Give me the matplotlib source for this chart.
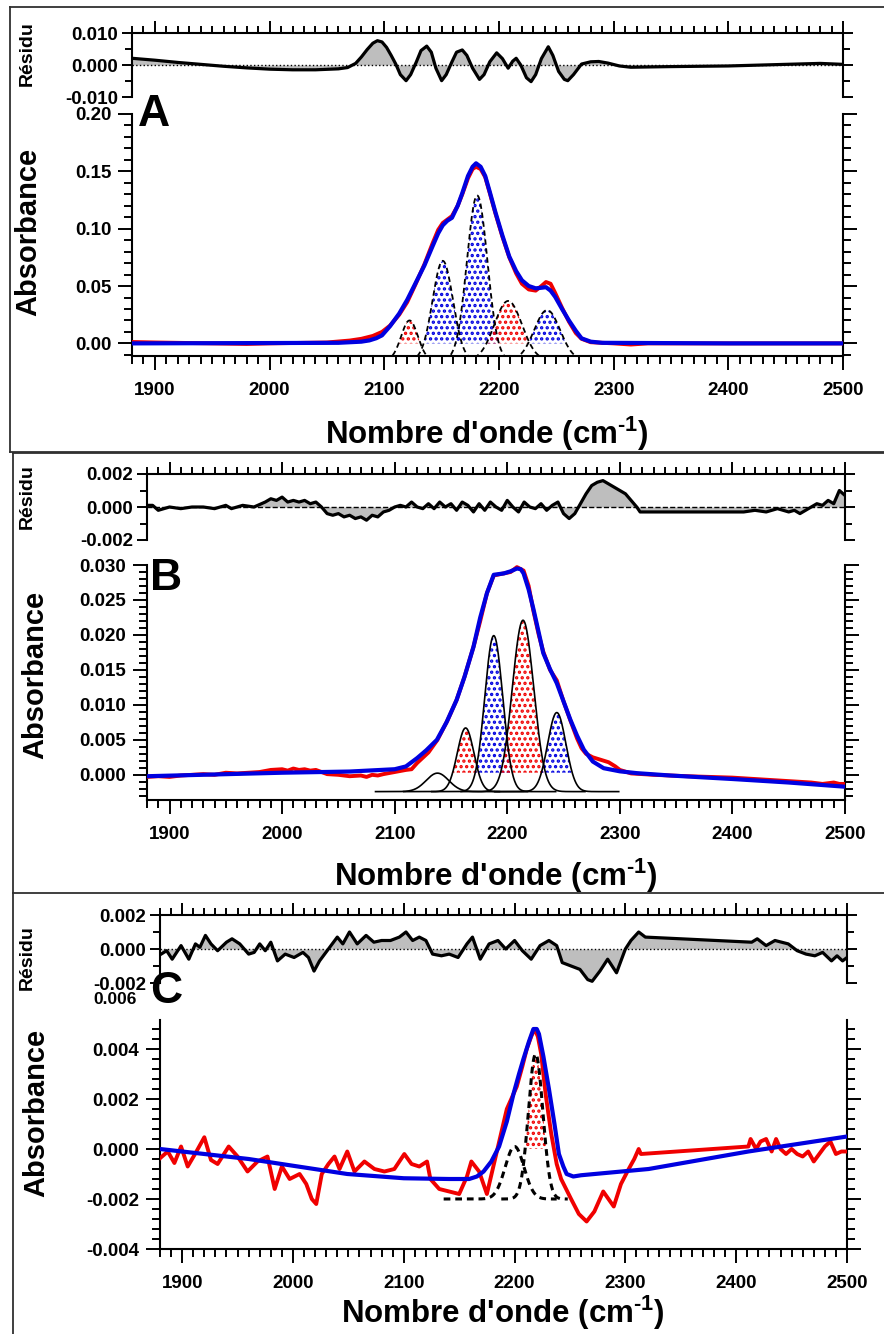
import numpy as np
import matplotlib
matplotlib.use("Agg")
import matplotlib.pyplot as plt
from matplotlib.lines import Line2D
from matplotlib.ticker import MultipleLocator, FormatStrFormatter

plt.rcParams['font.family'] = ['Liberation Sans', 'DejaVu Sans']
plt.rcParams['font.weight'] = 'bold'
plt.rcParams['mathtext.fontset'] = 'custom'
plt.rcParams['mathtext.rm'] = 'Liberation Sans:bold'
plt.rcParams['mathtext.bf'] = 'Liberation Sans:bold'
plt.rcParams['axes.unicode_minus'] = False
plt.rcParams['hatch.linewidth'] = 1.6

W, H = 884, 1334
RED = '#f00000'
BLUE = '#0000e0'
GREY = '#bebebe'

# ---------------- panel A ----------------
resA_x = [1880, 1900, 1920, 1940, 1960, 1980, 2000, 2020, 2040, 2060, 2068, 2075, 2080, 2085, 2090,
          2094, 2098, 2102, 2106, 2110, 2114, 2119, 2123, 2128, 2132, 2137, 2141, 2145, 2150, 2154,
          2159, 2163, 2168, 2172, 2177, 2183, 2187, 2192, 2198, 2203, 2208, 2212, 2215, 2219, 2224,
          2228, 2232, 2237, 2243, 2247, 2252, 2257, 2260, 2265, 2272, 2280, 2287, 2295, 2305, 2315,
          2350, 2400, 2450, 2480, 2500]
resA_y = [0.0021, 0.0015, 0.0008, 0.0002, -0.0004, -0.0009, -0.0013, -0.0015, -0.0015, -0.0012, -0.0008,
          0.0005, 0.0025, 0.0048, 0.0068, 0.0076, 0.0072, 0.0055, 0.003, 0.0003, -0.003, -0.0049,
          -0.003, 0.001, 0.0045, 0.0059, 0.004, -0.001, -0.0049, -0.003, 0.001, 0.004, 0.0047, 0.003,
          -0.001, -0.0045, -0.003, 0.001, 0.0038, 0.002, -0.001, 0.0012, 0.0021, 0.0, -0.004, -0.0052,
          -0.003, 0.002, 0.0057, 0.003, -0.002, -0.0045, -0.0049, -0.003, 0.0003, 0.001, 0.0011,
          0.0006, -0.0003, -0.0007, -0.0005, -0.0003, 0.0002, 0.0005, 0.0002]

fitA_x = [1880, 2000, 2060, 2070, 2080, 2087, 2093, 2098, 2105, 2113, 2120, 2127, 2135, 2142, 2147,
          2151, 2155, 2159, 2164, 2168, 2173, 2177, 2180, 2184, 2188, 2192, 2197, 2203, 2209, 2215,
          2220, 2226, 2232, 2237, 2241, 2245, 2249, 2255, 2261, 2267, 2272, 2280, 2290, 2400, 2500]
fitA_y = [0.0, 0.0003, 0.0005, 0.001, 0.0015, 0.0026, 0.0045, 0.007, 0.015, 0.026, 0.038, 0.052, 0.068,
          0.0845, 0.096, 0.103, 0.107, 0.1095, 0.12, 0.131, 0.146, 0.154, 0.157, 0.154, 0.146, 0.132,
          0.114, 0.094, 0.0757, 0.063, 0.055, 0.05, 0.048, 0.0485, 0.049, 0.046, 0.0406, 0.030, 0.020,
          0.011, 0.0044, 0.0015, 0.0005, 0.0, 0.0]

dataA_x = [1880, 1900, 1950, 1980, 2000, 2050, 2070, 2080, 2090, 2098, 2105, 2113, 2120, 2127, 2135,
           2142, 2147, 2151, 2155, 2159, 2164, 2168, 2173, 2177, 2180, 2184, 2188, 2192, 2197, 2203,
           2209, 2215, 2220, 2226, 2232, 2237, 2241, 2245, 2249, 2255, 2261, 2267, 2272, 2280, 2300,
           2315, 2330, 2450, 2500]
dataA_y = [0.0012, 0.0008, 0.0, -0.0005, 0.0, 0.0008, 0.0025, 0.004, 0.0065, 0.010, 0.0155, 0.025,
           0.036, 0.051, 0.069, 0.087, 0.099, 0.105, 0.108, 0.111, 0.12, 0.130, 0.144, 0.152, 0.154,
           0.152, 0.145, 0.131, 0.113, 0.093, 0.075, 0.061, 0.052, 0.047, 0.046, 0.050, 0.0535, 0.052,
           0.044, 0.031, 0.019, 0.009, 0.004, 0.001, 0.0, -0.001, 0.0, 0.0, 0.0]

compA_center = [2122, 2151, 2181, 2208, 2242]
compA_peak = [0.020, 0.072, 0.129, 0.037, 0.029]
compA_sigma = [7.3, 8.9, 8.9, 12.0, 11.3]
compA_color = [RED, BLUE, BLUE, RED, BLUE]
compA_base = -0.015

# ---------------- panel B ----------------
resB_x = [1880, 1885, 1890, 1895, 1900, 1910, 1920, 1930, 1940, 1950, 1955, 1965, 1975, 1985, 1990,
          1995, 2000, 2005, 2010, 2015, 2020, 2025, 2030, 2035, 2040, 2045, 2050, 2055, 2060, 2065,
          2070, 2075, 2080, 2085, 2090, 2095, 2100, 2105, 2110, 2115, 2120, 2125, 2130, 2135, 2140,
          2145, 2150, 2155, 2160, 2165, 2170, 2175, 2180, 2185, 2190, 2195, 2200, 2205, 2210, 2215,
          2220, 2225, 2230, 2235, 2240, 2245, 2250, 2255, 2260, 2265, 2270, 2275, 2280, 2285, 2290,
          2295, 2300, 2305, 2310, 2315, 2318, 2340, 2370, 2400, 2410, 2420, 2430, 2440, 2445, 2450,
          2455, 2460, 2465, 2470, 2475, 2480, 2485, 2490, 2495, 2500]
resB_y = [0.0001, 0.0001, -0.0002, -0.0001, 0.0, -0.0001, 0.0, 0.0, -0.0001, 0.0001, -0.0001, 0.0001,
          0.0, 0.0003, 0.0005, 0.0004, 0.0006, 0.0003, 0.0004, 0.0003, 0.0004, 0.0002, 0.0003, 0.0,
          -0.0004, -0.0005, -0.0004, -0.0006, -0.0005, -0.0007, -0.0006, -0.0008, -0.0005, -0.0006,
          -0.0003, -0.0002, 0.0, 0.0001, 0.0, 0.0003, 0.0, -0.0001, 0.0002, -0.0001, 0.0003, 0.0,
          0.0002, -0.0002, 0.0003, 0.0001, -0.0003, 0.0002, -0.0002, 0.0003, 0.0, -0.0002, 0.0004, 0.0,
          -0.0003, 0.0003, 0.0, -0.0001, 0.0002, -0.0002, 0.0001, 0.0003, -0.0004, -0.0007, -0.0004,
          0.0002, 0.0008, 0.0013, 0.0015, 0.0016, 0.0014, 0.0012, 0.001, 0.0008, 0.0004, 0.0, -0.0003,
          -0.0003, -0.0003, -0.0003, -0.0003, -0.0002, -0.0003, -0.0001, -0.0002, -0.0003, -0.0002,
          -0.0004, -0.0002, 0.0, 0.0002, 0.0001, 0.0004, 0.0002, 0.001, 0.0007]

fitB_x = [1880, 2000, 2060, 2100, 2110, 2120, 2128, 2137.5, 2146, 2155, 2162, 2170, 2176, 2182, 2188,
          2197, 2203, 2208.6, 2212, 2214.5, 2219, 2223.4, 2228, 2232, 2238, 2244, 2250, 2256, 2262,
          2268, 2276, 2285.6, 2300, 2315, 2345, 2400, 2450, 2500]
fitB_y = [-0.0002, 0.0003, 0.00047, 0.0008, 0.0012, 0.0024, 0.0035, 0.005, 0.0075, 0.0107, 0.014,
          0.0183, 0.0225, 0.026, 0.0286, 0.0288, 0.0291, 0.0295, 0.0294, 0.0288, 0.0265, 0.0236, 0.0203,
          0.0174, 0.0151, 0.0131, 0.0105, 0.0079, 0.0056, 0.0036, 0.0019, 0.00095, 0.0005, 0.00024,
          -0.0001, -0.0006, -0.0011, -0.0017]

dataB_x = [1880, 1890, 1900, 1910, 1920, 1930, 1940, 1950, 1960, 1970, 1980, 1990, 2000, 2005, 2010,
           2015, 2020, 2025, 2030, 2040, 2050, 2060, 2070, 2075, 2080, 2085, 2090, 2100, 2110, 2115,
           2120, 2130, 2138, 2147, 2155, 2162, 2170, 2176, 2182, 2188, 2197, 2203, 2208.6, 2214.5, 2219,
           2223, 2228, 2232, 2238, 2244, 2250, 2256, 2262, 2266, 2270, 2276, 2282, 2290, 2296, 2300,
           2310, 2330, 2360, 2400, 2430, 2450, 2460, 2470, 2480, 2485, 2490, 2495, 2500]
dataB_y = [-0.0003, -0.0002, -0.0003, -0.0001, 0.0, 0.0001, 0.0, 0.0003, 0.0002, 0.0003, 0.0004, 0.0007,
           0.0008, 0.0006, 0.0009, 0.0007, 0.0008, 0.0006, 0.0007, 0.0001, 0.0, -0.0002, -0.0001, -0.0003,
           0.0, -0.0001, 0.0001, 0.0004, 0.0007, 0.0008, 0.0017, 0.0032, 0.005, 0.0078, 0.0107, 0.014,
           0.0183, 0.022, 0.026, 0.0285, 0.0288, 0.029, 0.0297, 0.0292, 0.027, 0.0236, 0.020, 0.0176,
           0.015, 0.0135, 0.0105, 0.0078, 0.0052, 0.0038, 0.003, 0.0025, 0.0022, 0.0018, 0.0012, 0.0007,
           0.0002, 0.0, -0.0002, -0.0004, -0.0007, -0.0009, -0.001, -0.0011, -0.0013, -0.0012, -0.0011,
           -0.0013, -0.0013]

compB_center = [2138, 2163, 2188, 2214, 2244]
compB_peak = [0.00024, 0.0067, 0.0199, 0.0221, 0.0089]
compB_sigma = [10.0, 7.4, 8.0, 9.5, 8.1]
compB_color = [None, RED, BLUE, RED, BLUE]
compB_base = -0.0024
compB_level = 0.0003
compB_span = 55

# ---------------- panel C ----------------
resC_x = [1881, 1886, 1891, 1899, 1906, 1912, 1916, 1921, 1926, 1932, 1940, 1945, 1952, 1960, 1965,
          1970, 1975, 1980, 1986, 1993, 2001, 2009, 2014, 2019, 2024, 2032, 2040, 2045, 2051, 2058,
          2066, 2073, 2080, 2088, 2096, 2102, 2108, 2114, 2120, 2126, 2134, 2141, 2149, 2157, 2162,
          2169, 2177, 2185, 2192, 2200, 2207, 2215, 2223, 2231, 2238, 2243, 2251, 2259, 2266, 2270,
          2277, 2284, 2292, 2300, 2305, 2312, 2318, 2414, 2419, 2427, 2435, 2447, 2455, 2463, 2471,
          2478, 2486, 2491, 2496, 2500]
resC_y = [-0.0003, -0.0001, -0.0006, 0.0002, -0.0006, 0.0003, 0.0001, 0.0008, 0.0003, -0.0001, 0.0004,
          0.0006, 0.0003, -0.0003, -0.0002, 0.0003, -0.0001, 0.0004, -0.0007, -0.0003, -0.0005, -0.0002,
          -0.0005, -0.0013, -0.0007, 0.0, 0.0007, 0.0003, 0.001, 0.0003, 0.0008, 0.0004, 0.0005, 0.0005,
          0.0007, 0.001, 0.0005, 0.0007, 0.0005, -0.0003, -0.0004, -0.0003, -0.0005, 0.0003, 0.0007,
          -0.0006, 0.0003, 0.0005, 0.0, 0.0005, -0.0001, -0.0006, 0.0002, 0.0005, 0.0002, -0.0008,
          -0.001, -0.0012, -0.0018, -0.0019, -0.0013, -0.0006, -0.0014, 0.0, 0.0005, 0.001, 0.0007,
          0.0004, 0.0006, 0.0002, 0.0005, 0.0003, -0.0001, -0.0003, -0.0004, -0.0002, -0.0007, -0.0004,
          -0.0007, -0.0005]

fitC_x = [1880, 1960, 2049, 2100, 2141, 2159, 2166, 2172, 2179, 2186, 2193, 2199, 2204, 2208, 2213,
          2217, 2220, 2222, 2226, 2231, 2236, 2240, 2244, 2247, 2253, 2260, 2321, 2411, 2500]
fitC_y = [0.0, -0.0004, -0.001, -0.00117, -0.0012, -0.0012, -0.0011, -0.0009, -0.0005, 0.0001, 0.0011,
          0.0022, 0.003, 0.0036, 0.0043, 0.0048, 0.0048, 0.0046, 0.0037, 0.0024, 0.0010, -0.0002,
          -0.0007, -0.001, -0.0011, -0.00105, -0.0008, -0.0001, 0.0005]

dataC_x = [1880, 1887, 1893, 1899, 1905, 1912, 1920, 1926, 1932, 1942, 1950, 1959, 1968, 1977, 1983.5,
           1990, 1997, 2006, 2012, 2017, 2021, 2026, 2032, 2037.5, 2042, 2049, 2055.5, 2064.5, 2073.5,
           2082.5, 2091.5, 2100.5, 2107, 2114, 2121, 2124, 2132, 2141, 2150, 2157, 2161, 2168, 2175,
           2184, 2193, 2202, 2207, 2211, 2215, 2218, 2221, 2224, 2228, 2233, 2238, 2242, 2251, 2258,
           2265, 2272, 2280, 2289.5, 2296, 2303, 2308, 2312, 2314, 2411, 2413, 2418, 2422, 2427, 2432,
           2436, 2440, 2445, 2450, 2455, 2460, 2465, 2470, 2475, 2480, 2485, 2490, 2495, 2500]
dataC_y = [-0.00037, -0.0001, -0.00056, 0.0001, -0.0007, -0.00017, 0.00047, -0.00044, -0.0006, 0.0001,
           -0.0003, -0.0009, -0.0005, -0.0003, -0.0016, -0.0007, -0.0012, -0.001, -0.0014, -0.002,
           -0.0022, -0.001, -0.0006, -0.0003, -0.0008, -0.0001, -0.0009, -0.0005, -0.0008, -0.0009,
           -0.0008, -0.0002, -0.0006, -0.0007, -0.0005, -0.0012, -0.0016, -0.0017, -0.0018, -0.0011,
           -0.0005, -0.0009, -0.0018, -0.0001, 0.0016, 0.0025, 0.0033, 0.004, 0.0045, 0.0048, 0.0045,
           0.0038, 0.0022, 0.00063, -0.0006, -0.0012, -0.002, -0.0026, -0.0029, -0.0025, -0.0017,
           -0.0023, -0.0014, -0.0008, -0.0004, 0.0, -0.0002, 0.0001, 0.0004, 0.0, 0.0003, 0.0004,
           -0.0001, 0.0004, 0.0, -0.0002, 0.0, -0.0002, -0.0003, -0.0001, -0.0005, -0.0002, 0.0001,
           0.0003, -0.0002, -0.0001, -0.0001]

compC_center = [2200, 2219]
compC_peak = [0.0001, 0.0038]
compC_sigma = [8.5, 6.5]
compC_lo = [2136, 2188]
compC_hi = [2238, 2248]
compC_color = [None, RED]
compC_base = -0.002

xticks_major = 100
xticks_minor = 10


def fig_rect(left, top, right, bottom):
    return [left / W, 1 - bottom / H, (right - left) / W, (bottom - top) / H]


fig = plt.figure(figsize=(W / 100, H / 100), dpi=100)


def style_resid(ax, lim, major, minor):
    ax.set_xlim(1880, 2500)
    ax.set_ylim(-lim, lim)
    ax.spines['bottom'].set_visible(False)
    for s in ['top', 'left', 'right']:
        ax.spines[s].set_linewidth(1.5)
    ax.xaxis.set_ticks_position('top')
    ax.xaxis.set_major_locator(MultipleLocator(xticks_major))
    ax.xaxis.set_minor_locator(MultipleLocator(xticks_minor))
    ax.tick_params(axis='x', which='both', direction='out', labeltop=False, labelbottom=False, width=1.4)
    ax.tick_params(axis='x', which='major', length=9)
    ax.tick_params(axis='x', which='minor', length=5)
    ax.yaxis.set_major_locator(MultipleLocator(major))
    ax.yaxis.set_minor_locator(MultipleLocator(minor))
    ax.yaxis.set_major_formatter(FormatStrFormatter('%.3f'))
    ax.tick_params(axis='y', which='both', direction='out', left=True, right=True,
                   labelleft=True, labelright=False, width=1.4, labelsize=13.5, pad=3)
    ax.tick_params(axis='y', which='major', length=7)
    ax.tick_params(axis='y', which='minor', length=5)
    ax.patch.set_alpha(0)


def style_main(ax, ylim, major, minor, fmt):
    ax.set_xlim(1880, 2500)
    ax.set_ylim(*ylim)
    ax.spines['top'].set_visible(False)
    for s in ['bottom', 'left', 'right']:
        ax.spines[s].set_linewidth(1.5)
    ax.xaxis.set_major_locator(MultipleLocator(xticks_major))
    ax.xaxis.set_minor_locator(MultipleLocator(xticks_minor))
    ax.tick_params(axis='x', which='both', direction='out', top=False, width=1.4, labelsize=13.5, pad=9)
    ax.tick_params(axis='x', which='major', length=10)
    ax.tick_params(axis='x', which='minor', length=6)
    ax.yaxis.set_major_locator(MultipleLocator(major))
    ax.yaxis.set_minor_locator(MultipleLocator(minor))
    ax.yaxis.set_major_formatter(FormatStrFormatter(fmt))
    ax.tick_params(axis='y', which='both', direction='out', left=True, right=True,
                   labelleft=True, labelright=False, width=1.4, labelsize=13.5, pad=5)
    ax.tick_params(axis='y', which='major', length=10)
    ax.tick_params(axis='y', which='minor', length=6)
    ax.patch.set_alpha(0)


def draw_resid(ax, x, y, zls):
    x = np.asarray(x)
    y = np.asarray(y)
    ax.fill_between(x, 0, y, color=GREY, lw=0, zorder=1)
    ax.axhline(0, color='k', ls=zls, lw=1.0, zorder=2)
    ax.plot(x, y, color='k', lw=2.3, zorder=3, solid_joinstyle='round')


def draw_comps(ax, centers, peaks, sigmas, colors, base, level, lo, hi, ls, lw):
    for c, p, s, col, a, b in zip(centers, peaks, sigmas, colors, lo, hi):
        xx = np.linspace(a, b, 400)
        yy = base + (p - base) * np.exp(-0.5 * ((xx - c) / s) ** 2)
        if col is not None:
            ax.fill_between(xx, level, yy, where=yy > level, interpolate=True,
                            facecolor='none', edgecolor=col, hatch='...', lw=0, zorder=1)
        ax.plot(xx, yy, color='k', ls=ls, lw=lw, zorder=2)


def text_labels(resid_y, abs_x, abs_y, xl_x, xl_y, letter, lx, ly):
    fig.text(resid_y[0] / W, 1 - resid_y[1] / H, 'Résidu', rotation=90, ha='center', va='center',
             fontsize=14, fontweight='bold')
    fig.text(abs_x / W, 1 - abs_y / H, 'Absorbance', rotation=90, ha='center', va='center',
             fontsize=21, fontweight='bold')
    fig.text(xl_x / W, 1 - xl_y / H, r"Nombre d'onde (cm$^{\text{-1}}$)", ha='center', va='baseline',
             fontsize=22.5, fontweight='bold')
    fig.text(lx / W, 1 - ly / H, letter, ha='left', va='baseline', fontsize=32, fontweight='bold')


# ---- A ----
rA = fig.add_axes(fig_rect(132, 33, 843, 97))
style_resid(rA, 0.010, 0.010, 0.005)
draw_resid(rA, resA_x, resA_y, ':')

mA = fig.add_axes(fig_rect(132, 114, 843, 356))
style_main(mA, (-0.011, 0.20), 0.05, 0.01, '%.2f')
draw_comps(mA, compA_center, compA_peak, compA_sigma, compA_color, compA_base, 0.0,
           [c - 45 for c in compA_center], [c + 45 for c in compA_center], (0, (3, 2)), 1.3)
mA.plot(dataA_x, dataA_y, color=RED, lw=2.8, zorder=3)
mA.plot(fitA_x, fitA_y, color=BLUE, lw=3.0, zorder=4)
text_labels((27, 54), 28, 232, 487, 444, 'A', 138, 126)

# ---- B ----
rB = fig.add_axes(fig_rect(147, 474, 845, 540))
style_resid(rB, 0.002, 0.002, 0.001)
draw_resid(rB, resB_x, resB_y, '--')

mB = fig.add_axes(fig_rect(147, 565, 845, 800))
style_main(mB, (-0.0036, 0.030), 0.005, 0.001, '%.3f')
draw_comps(mB, compB_center, compB_peak, compB_sigma, compB_color, compB_base, compB_level,
           [c - compB_span for c in compB_center], [c + compB_span for c in compB_center], '-', 1.2)
mB.plot(dataB_x, dataB_y, color=RED, lw=2.8, zorder=3)
mB.plot(fitB_x, fitB_y, color=BLUE, lw=3.0, zorder=4)
text_labels((27, 497), 35, 675, 496, 886, 'B', 150, 590)

# ---- C ----
rC = fig.add_axes(fig_rect(160, 915, 847, 983))
style_resid(rC, 0.002, 0.002, 0.001)
draw_resid(rC, resC_x, resC_y, ':')

mC = fig.add_axes(fig_rect(160, 1020, 847, 1249))
style_main(mC, (-0.004, 0.00516), 0.002, 0.0004, '%.3f')
draw_comps(mC, compC_center, compC_peak, compC_sigma, compC_color, compC_base, 0.0,
           compC_lo, compC_hi, (0, (2.2, 1.6)), 2.2)
mC.plot(dataC_x, dataC_y, color=RED, lw=2.8, zorder=3)
mC.plot(fitC_x, fitC_y, color=BLUE, lw=3.0, zorder=4)
text_labels((27, 958), 36, 1113, 503, 1323, 'C', 150, 1003)
fig.text(137 / W, 1 - 1000 / H, '0.006', ha='right', va='center', fontsize=12.5, fontweight='bold')

# panel frames
frame_kw = dict(color='#303030', lw=1.3, transform=fig.transFigure)
for left, top, bottom in [(10, 7, 452), (13, 453, 893), (13, 893, 1340)]:
    fig.add_artist(Line2D([left / W, left / W], [1 - top / H, 1 - bottom / H], **frame_kw))
    fig.add_artist(Line2D([left / W, 1.0], [1 - top / H, 1 - top / H], **frame_kw))
fig.add_artist(Line2D([10 / W, 1.0], [1 - 452 / H, 1 - 452 / H], **frame_kw))

fig.savefig('out.png', dpi=100)
